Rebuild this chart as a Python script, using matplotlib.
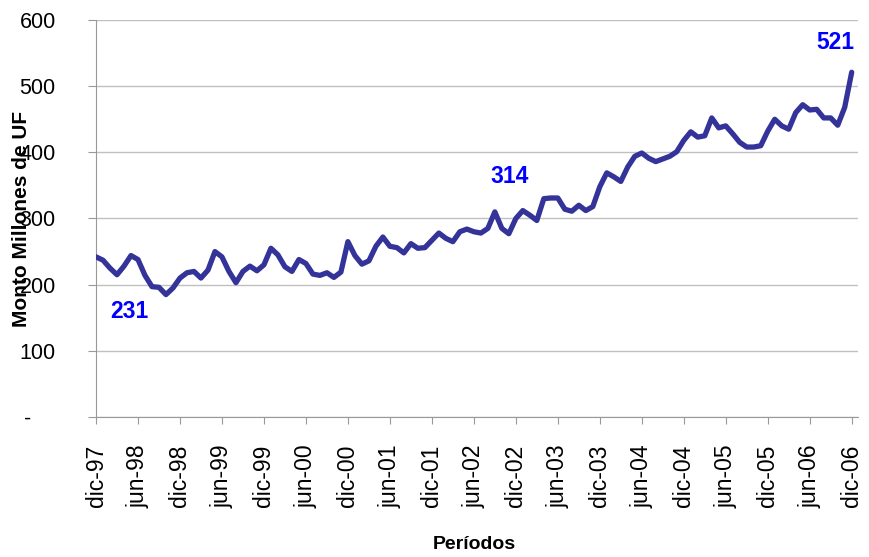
import numpy as np
import matplotlib
matplotlib.use('Agg')
import matplotlib.pyplot as plt

# monto mensual (millones de UF), dic-97 .. dic-06
monto = [242, 237, 225, 215, 228, 244, 238, 214, 197, 196, 185, 195,
         210, 218, 220, 210, 222, 250, 242, 220, 203, 220, 228, 221,
         230, 255, 245, 227, 220, 238, 232, 216, 214, 218, 211, 219,
         265, 244, 231, 236, 258, 272, 258, 256, 248, 262, 255, 256,
         267, 278, 270, 265, 280, 284, 280, 278, 285, 310, 285, 277,
         300, 312, 305, 297, 330, 331, 331, 314, 311, 320, 312, 318,
         348, 369, 363, 356, 378, 394, 399, 391, 386, 390, 394, 401,
         418, 431, 423, 425, 452, 437, 440, 428, 415, 408, 408, 410,
         432, 450, 440, 435, 460, 472, 464, 465, 452, 452, 441, 468,
         521]

tick_labels = ['dic-97', 'jun-98', 'dic-98', 'jun-99', 'dic-99', 'jun-00',
               'dic-00', 'jun-01', 'dic-01', 'jun-02', 'dic-02', 'jun-03',
               'dic-03', 'jun-04', 'dic-04', 'jun-05', 'dic-05', 'jun-06',
               'dic-06']

y_ticks = [0, 100, 200, 300, 400, 500, 600]
y_tick_labels = ['-    ', '100', '200', '300', '400', '500', '600']

# etiquetas de datos destacadas
etiquetas = ['231', '314', '521']

plt.rcParams['font.family'] = ['Liberation Sans', 'DejaVu Sans']

fig = plt.figure(figsize=(8.69, 5.57), dpi=100, facecolor='w')
ax = fig.add_axes([96 / 869, 1 - 417 / 557, 762 / 869, 397 / 557])

x = np.arange(len(monto))
ax.plot(x, monto, color='#333399', lw=3.8, solid_joinstyle='round',
        solid_capstyle='round', zorder=3)

ax.set_xlim(0, 108.9)
ax.set_ylim(0, 600)
ax.set_xticks(np.arange(0, len(monto), 6))
ax.set_xticklabels(tick_labels, rotation=90, fontsize=16.5)
ax.set_yticks(y_ticks)
ax.set_yticklabels(y_tick_labels, fontsize=15.5)

ax.grid(axis='y', color='#c0c0c0', lw=1)
ax.set_axisbelow(True)
for s in ['top', 'right']:
    ax.spines[s].set_visible(False)
for s in ['left', 'bottom']:
    ax.spines[s].set_color('#999999')
ax.tick_params(axis='y', direction='out', length=6, color='#999999', pad=23)
ax.tick_params(axis='x', direction='out', length=5, color='#999999', pad=15)

ax.set_xlabel('Períodos', fontsize=14, fontweight='bold', va='center')
ax.xaxis.set_label_coords(0.497, -0.322)
ax.yaxis.set_label_coords(-0.085, 0.5)
ax.set_ylabel('Monto Millones de UF', fontsize=15, fontweight='bold')

pos = [(4.7, 159), (59.1, 364), (105.6, 566)]
for t, (px, py) in zip(etiquetas, pos):
    ax.text(px, py, t, color='#0000ff', fontsize=16.5, fontweight='bold',
            ha='center', va='center')

plt.savefig('out.png', dpi=100, facecolor='w')
